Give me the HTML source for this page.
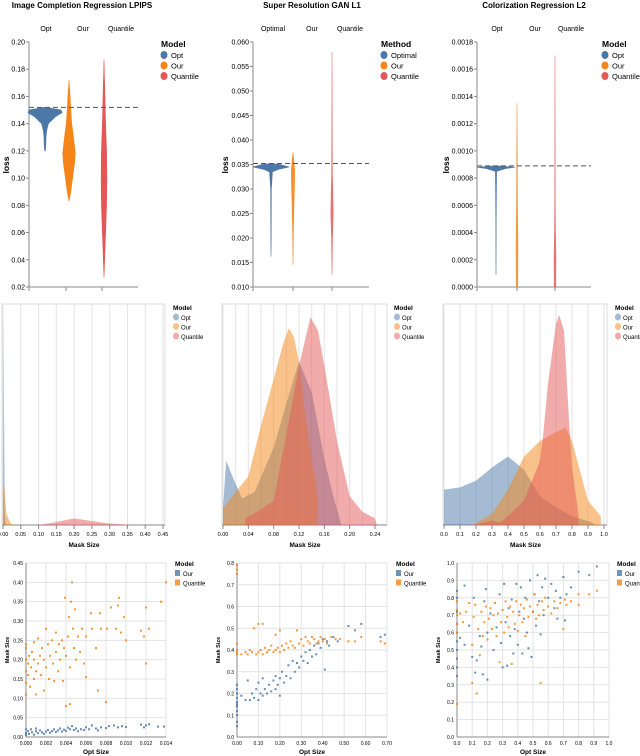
<!DOCTYPE html>
<html><head><meta charset="utf-8"><style>
body{margin:0;background:#fff}
svg{display:block;font-family:"Liberation Sans",sans-serif}
</style></head><body>
<svg id="fig" width="640" height="756" viewBox="0 0 640 756" xmlns="http://www.w3.org/2000/svg"></svg>
<script>
// ===== Row 1 violin data: [loss, relative density] =====
const v1Opt=[[0.12,0.02],[0.125,0.05],[0.13,0.06],[0.135,0.1],[0.14,0.2],[0.145,0.6],[0.148,1],[0.15,0.95],[0.151,0.5],[0.152,0]];
const v1Our=[[0.083,0],[0.09,0.1],[0.1,0.2],[0.11,0.3],[0.118,0.35],[0.13,0.25],[0.14,0.15],[0.15,0.1],[0.16,0.06],[0.172,0]];
const v1Qua=[[0.027,0],[0.04,0.04],[0.06,0.1],[0.08,0.16],[0.1,0.18],[0.12,0.16],[0.14,0.1],[0.16,0.06],[0.187,0]];
const v2Opt=[[0.0162,0],[0.02,0.01],[0.03,0.02],[0.0335,0.08],[0.034,0.4],[0.0345,1],[0.035,0.5],[0.0352,0]];
const v2Our=[[0.0145,0],[0.02,0.02],[0.025,0.05],[0.03,0.1],[0.034,0.12],[0.0375,0]];
const v2Qua=[[0.0125,0],[0.02,0.04],[0.025,0.1],[0.03,0.06],[0.033,0.03],[0.04,0.02],[0.058,0]];
const v3Opt=[[0.00009,0],[0.0005,0.01],[0.00085,0.03],[0.00087,0.5],[0.00088,1],[0.00089,0]];
const v3Our=[[0,0.06],[0.0003,0.08],[0.0006,0.04],[0.001,0.02],[0.00135,0]];
const v3Qua=[[0,0.06],[0.0002,0.08],[0.0004,0.04],[0.0006,0.02],[0.0017,0]];
const v1Ticks=[0.02,0.04,0.06,0.08,0.10,0.12,0.14,0.16,0.18,0.20];
const v2Ticks=[0.010,0.015,0.020,0.025,0.030,0.035,0.040,0.045,0.050,0.055,0.060];
const v3Ticks=[0,0.0002,0.0004,0.0006,0.0008,0.0010,0.0012,0.0014,0.0016,0.0018];
const refLines=[0.152,0.0352,0.00089];
// ===== Row 2 density data: [mask size, relative height] =====
const d1Opt=[[0,0],[0.001,0.5],[0.002,0.94],[0.003,0.5],[0.005,0.05],[0.008,0]];
const d1Our=[[0,0.05],[0.002,0.17],[0.003,0.19],[0.006,0.12],[0.01,0.05],[0.02,0.01],[0.03,0]];
const d1Qua=[[0.1,0],[0.14,0.01],[0.2,0.03],[0.26,0.015],[0.3,0.007],[0.36,0]];
const d2Opt=[[0,0.08],[0.005,0.29],[0.015,0.22],[0.03,0.12],[0.05,0.15],[0.08,0.35],[0.1,0.55],[0.12,0.74],[0.14,0.6],[0.16,0.3],[0.175,0.12],[0.187,0]];
const d2Our=[[0,0.075],[0.02,0.15],[0.04,0.22],[0.06,0.45],[0.08,0.66],[0.095,0.82],[0.104,0.89],[0.112,0.85],[0.12,0.74],[0.13,0.5],[0.14,0.3],[0.149,0.14],[0.149,0]];
const d2Qua=[[0.035,0],[0.035,0.03],[0.06,0.07],[0.08,0.11],[0.1,0.41],[0.12,0.72],[0.138,0.94],[0.15,0.88],[0.16,0.72],[0.18,0.38],[0.2,0.13],[0.22,0.06],[0.24,0.03],[0.243,0]];
const d3Opt=[[0,0],[0,0.16],[0.1,0.17],[0.2,0.2],[0.3,0.26],[0.4,0.31],[0.5,0.25],[0.6,0.13],[0.7,0.08],[0.8,0.04],[0.93,0.01],[0.94,0]];
const d3Our=[[0.18,0],[0.3,0.05],[0.4,0.16],[0.5,0.31],[0.6,0.38],[0.7,0.42],[0.76,0.44],[0.8,0.38],[0.9,0.11],[0.98,0.04],[0.98,0]];
const d3Qua=[[0.18,0],[0.3,0.02],[0.35,0.01],[0.4,0.04],[0.5,0.11],[0.55,0.2],[0.6,0.29],[0.62,0.41],[0.65,0.64],[0.7,0.91],[0.72,0.95],[0.75,0.88],[0.78,0.49],[0.8,0.26],[0.84,0.05],[0.84,0]];
const d1Ticks=[0,0.05,0.1,0.15,0.2,0.25,0.3,0.35,0.4,0.45];
const d2Ticks=[0,0.02,0.04,0.06,0.08,0.1,0.12,0.14,0.16,0.18,0.2,0.22,0.24];
const d3Ticks=[0,0.1,0.2,0.3,0.4,0.5,0.6,0.7,0.8,0.9,1.0];
// ===== Row 3 scatter data: [opt size, mask size] =====
const s1Our=[[0,0.02],[0,0.01],[0,0.005],[0.0002,0.015],[0.0003,0.008],[0.0005,0.02],[0.0006,0.012],[0.0008,0.006],[0.001,0.015],[0.001,0.022],[0.0012,0.01],[0.0014,0.017],[0.0016,0.012],[0.0018,0.008],[0.002,0.014],[0.0022,0.018],[0.0024,0.011],[0.0026,0.015],[0.0028,0.02],[0.003,0.013],[0.0032,0.017],[0.0034,0.022],[0.0036,0.014],[0.0038,0.019],[0.004,0.016],[0.0042,0.024],[0.0044,0.02],[0.0046,0.028],[0.0048,0.018],[0.005,0.022],[0.0052,0.015],[0.0055,0.02],[0.0058,0.018],[0.006,0.025],[0.0063,0.02],[0.0066,0.03],[0.007,0.022],[0.0072,0.017],[0.0075,0.025],[0.008,0.023],[0.0083,0.028],[0.0088,0.03],[0.0092,0.025],[0.0096,0.028],[0.01,0.026],[0.0115,0.032],[0.0118,0.025],[0.012,0.03],[0.0123,0.033],[0.0132,0.027],[0.0138,0.027]];
const s1Qua=[[0,0.11],[0,0.14],[0,0.17],[0,0.2],[0,0.23],[0,0.24],[0.0002,0.16],[0.0002,0.19],[0.0003,0.21],[0.0004,0.13],[0.0005,0.18],[0.0006,0.22],[0.0008,0.15],[0.0008,0.2],[0.0008,0.245],[0.001,0.17],[0.001,0.11],[0.0012,0.19],[0.0012,0.255],[0.0014,0.21],[0.0015,0.16],[0.0016,0.23],[0.0018,0.12],[0.0018,0.2],[0.002,0.28],[0.002,0.18],[0.0022,0.24],[0.0023,0.15],[0.0024,0.21],[0.0026,0.25],[0.0027,0.19],[0.0028,0.145],[0.003,0.22],[0.003,0.27],[0.0032,0.17],[0.0033,0.24],[0.0034,0.2],[0.0036,0.25],[0.0037,0.145],[0.0038,0.23],[0.0039,0.36],[0.004,0.08],[0.004,0.21],[0.0042,0.26],[0.0043,0.31],[0.0044,0.085],[0.0044,0.18],[0.0045,0.35],[0.0046,0.4],[0.0047,0.28],[0.0048,0.23],[0.0049,0.33],[0.005,0.2],[0.0052,0.26],[0.0054,0.22],[0.0056,0.28],[0.0058,0.19],[0.006,0.155],[0.006,0.26],[0.0065,0.32],[0.0066,0.28],[0.007,0.23],[0.0072,0.12],[0.0074,0.32],[0.0075,0.28],[0.008,0.09],[0.0081,0.28],[0.0085,0.335],[0.009,0.28],[0.0092,0.34],[0.0093,0.36],[0.0095,0.27],[0.0098,0.31],[0.01,0.25],[0.0115,0.275],[0.0118,0.26],[0.012,0.19],[0.012,0.335],[0.0123,0.28],[0.0135,0.35],[0.014,0.4]];
const s2Our=[[0,0.05],[0,0.07],[0,0.1],[0,0.12],[0,0.14],[0,0.15],[0,0.16],[0,0.18],[0,0.2],[0,0.22],[0,0.24],[0.02,0.19],[0.04,0.17],[0.05,0.26],[0.06,0.17],[0.07,0.2],[0.08,0.18],[0.09,0.22],[0.1,0.17],[0.1,0.25],[0.11,0.2],[0.12,0.19],[0.12,0.27],[0.13,0.22],[0.14,0.2],[0.15,0.24],[0.16,0.21],[0.17,0.26],[0.18,0.22],[0.18,0.28],[0.19,0.24],[0.2,0.27],[0.2,0.19],[0.21,0.3],[0.22,0.25],[0.23,0.28],[0.24,0.33],[0.25,0.27],[0.26,0.35],[0.27,0.3],[0.28,0.34],[0.29,0.32],[0.3,0.37],[0.31,0.35],[0.32,0.39],[0.33,0.34],[0.34,0.4],[0.35,0.37],[0.36,0.42],[0.37,0.38],[0.38,0.43],[0.39,0.41],[0.4,0.45],[0.41,0.31],[0.42,0.44],[0.43,0.42],[0.45,0.46],[0.47,0.44],[0.52,0.51],[0.55,0.49],[0.58,0.52],[0.67,0.46],[0.69,0.47]];
const s2Qua=[[0,0.38],[0,0.39],[0,0.4],[0,0.43],[0,0.75],[0,0.77],[0,0.79],[0.02,0.38],[0.04,0.39],[0.05,0.38],[0.06,0.4],[0.07,0.39],[0.08,0.5],[0.09,0.38],[0.1,0.39],[0.1,0.52],[0.11,0.4],[0.12,0.38],[0.12,0.52],[0.13,0.41],[0.14,0.39],[0.15,0.4],[0.16,0.42],[0.17,0.39],[0.18,0.4],[0.18,0.47],[0.19,0.41],[0.2,0.39],[0.2,0.49],[0.21,0.42],[0.22,0.4],[0.23,0.43],[0.24,0.41],[0.25,0.44],[0.26,0.42],[0.27,0.41],[0.28,0.49],[0.29,0.43],[0.3,0.45],[0.31,0.42],[0.32,0.46],[0.33,0.44],[0.34,0.43],[0.35,0.46],[0.36,0.45],[0.37,0.43],[0.38,0.44],[0.39,0.46],[0.4,0.44],[0.41,0.45],[0.42,0.43],[0.44,0.46],[0.46,0.45],[0.48,0.45],[0.52,0.44],[0.55,0.44],[0.58,0.46],[0.67,0.44],[0.69,0.43]];
const s3Our=[[0,0.35],[0,0.4],[0,0.45],[0,0.5],[0,0.55],[0,0.6],[0,0.65],[0,0.72],[0,0.8],[0,0.84],[0.02,0.57],[0.05,0.87],[0.05,0.53],[0.08,0.64],[0.1,0.46],[0.11,0.8],[0.12,0.37],[0.13,0.44],[0.15,0.58],[0.16,0.52],[0.17,0.36],[0.18,0.78],[0.19,0.85],[0.2,0.33],[0.2,0.6],[0.22,0.71],[0.24,0.5],[0.26,0.63],[0.28,0.82],[0.29,0.54],[0.3,0.4],[0.31,0.88],[0.32,0.66],[0.33,0.41],[0.34,0.74],[0.35,0.58],[0.36,0.79],[0.37,0.48],[0.38,0.62],[0.39,0.88],[0.4,0.53],[0.41,0.72],[0.42,0.86],[0.43,0.48],[0.44,0.68],[0.45,0.8],[0.46,0.6],[0.47,0.51],[0.48,0.9],[0.49,0.46],[0.5,0.72],[0.51,0.82],[0.52,0.64],[0.53,0.93],[0.54,0.78],[0.55,0.59],[0.56,0.86],[0.57,0.7],[0.58,0.91],[0.6,0.8],[0.62,0.88],[0.64,0.74],[0.65,0.84],[0.66,0.68],[0.68,0.8],[0.7,0.92],[0.71,0.67],[0.72,0.82],[0.75,0.86],[0.8,0.95],[0.87,0.93],[0.92,0.98]];
const s3Qua=[[0,0.19],[0,0.6],[0,0.65],[0,0.7],[0,0.73],[0,0.78],[0.02,0.71],[0.04,0.66],[0.06,0.72],[0.08,0.77],[0.1,0.53],[0.1,0.31],[0.11,0.69],[0.12,0.76],[0.13,0.25],[0.14,0.62],[0.15,0.47],[0.16,0.72],[0.17,0.58],[0.18,0.66],[0.19,0.75],[0.2,0.56],[0.21,0.68],[0.22,0.74],[0.23,0.62],[0.24,0.7],[0.25,0.77],[0.26,0.58],[0.27,0.71],[0.28,0.43],[0.29,0.66],[0.3,0.73],[0.31,0.6],[0.32,0.78],[0.33,0.69],[0.34,0.63],[0.35,0.75],[0.36,0.42],[0.37,0.72],[0.38,0.65],[0.39,0.78],[0.4,0.61],[0.41,0.7],[0.42,0.76],[0.43,0.66],[0.44,0.74],[0.45,0.58],[0.46,0.79],[0.47,0.69],[0.48,0.75],[0.5,0.72],[0.51,0.82],[0.52,0.68],[0.53,0.76],[0.54,0.7],[0.55,0.31],[0.56,0.78],[0.57,0.73],[0.58,0.8],[0.6,0.75],[0.62,0.71],[0.64,0.78],[0.66,0.74],[0.68,0.77],[0.7,0.62],[0.71,0.79],[0.72,0.76],[0.75,0.78],[0.8,0.76],[0.8,0.82],[0.87,0.82],[0.92,0.84]];
const s1XTicks=[0,0.002,0.004,0.006,0.008,0.010,0.012,0.014];
const s1YTicks=[0,0.05,0.1,0.15,0.2,0.25,0.3,0.35,0.4,0.45];
const s2XTicks=[0,0.1,0.2,0.3,0.4,0.5,0.6,0.7];
const s2YTicks=[0,0.1,0.2,0.3,0.4,0.5,0.6,0.7,0.8];
const s3XTicks=[0,0.1,0.2,0.3,0.4,0.5,0.6,0.7,0.8,0.9,1.0];
const s3YTicks=[0,0.1,0.2,0.3,0.4,0.5,0.6,0.7,0.8,0.9,1.0];

const BLUE='#4c78a8',ORANGE='#f58518',RED='#e45756';
const NS='http://www.w3.org/2000/svg';
const svg=document.getElementById('fig');
function mk(tag,attrs,parent,text){const e=document.createElementNS(NS,tag);for(const k in attrs)e.setAttribute(k,attrs[k]);if(text!==undefined)e.textContent=text;(parent||svg).appendChild(e);return e;}
function lin(d0,d1,r0,r1){return v=>r0+(v-d0)/(d1-d0)*(r1-r0);}
function grp(name){const g=mk('g',{});return g;}

function legend(x,y,title,labels,colors,shape,small,op){
  const g=grp('legend');
  const fs=small?6:7.5;
  const t=mk('text',{x:x,y:y,'font-size':small?6.5:8.5,'font-weight':'bold',fill:'#000'},g,title);
  
  labels.forEach((l,i)=>{
    const yy=y+(small?10:11)+i*(small?9.5:10.5);
    const eg=mk('g',{},g);
    
    if(shape==='sq')mk('rect',{x:x,y:yy-6,width:5,height:6,fill:colors[i],opacity:op},eg);
    else mk('ellipse',{cx:x+3,cy:yy-3,rx:small?3:3.5,ry:small?3.5:4,fill:colors[i],opacity:op},eg);
    mk('text',{x:x+(small?8:10),y:yy,'font-size':fs,fill:'#000'},eg,l);
  });
}

// ===== Row 1: violins =====
function violinPanel(o){
  const g=grp(o.name);
  const y=lin(o.ymin,o.ymax,287,42);
  mk('text',{x:o.titleX,y:8,'font-size':8,'font-weight':'bold','text-anchor':'middle',fill:'#000'},g,o.title);
  mk('line',{x1:o.ax,y1:42,x2:o.ax,y2:287,stroke:'#888','stroke-width':1},g);
  mk('line',{x1:o.ax,y1:287,x2:o.axEnd,y2:287,stroke:'#888','stroke-width':1},g);
  o.cols.forEach((c,i)=>{mk('line',{x1:o.ticksX[i],y1:287,x2:o.ticksX[i],y2:291,stroke:'#888'},g);
    const t=mk('text',{x:o.colX[i],y:31,'font-size':7,'text-anchor':'middle',fill:'#000'},g,c);});
  o.ticks.forEach(v=>{mk('line',{x1:o.ax-3,y1:y(v),x2:o.ax,y2:y(v),stroke:'#888'},g);
    mk('text',{x:o.ax-4,y:y(v)+2.5,'font-size':7,'text-anchor':'end',fill:'#000'},g,v.toFixed(o.dec));});
  const yt=mk('text',{x:0,y:0,'font-size':8.5,'font-weight':'bold','text-anchor':'middle',fill:'#000',transform:`translate(${o.ax-o.yto},165) rotate(-90)`},g,'loss');
  
  [o.a,o.b,o.c].forEach((s,i)=>{
    const cx=o.cx[i],w=o.w[i];
    let d='';s.forEach((p,j)=>{d+=(j?'L':'M')+(cx+p[1]*w)+','+y(p[0]);});
    for(let j=s.length-1;j>=0;j--)d+='L'+(cx-s[j][1]*w)+','+y(s[j][0]);
    const p=mk('path',{d:d+'Z',fill:[BLUE,ORANGE,RED][i],stroke:[BLUE,ORANGE,RED][i],'stroke-width':0.6,'fill-opacity':o.fo[i],'stroke-opacity':o.fo[i]},g);
    
  });
  const rl=mk('line',{x1:o.ax,y1:y(o.ref),x2:o.axEnd,y2:y(o.ref),stroke:'#555','stroke-dasharray':'5,3','stroke-width':1},g);
  
  legend(o.legX,47,o.legTitle,o.cols,[BLUE,ORANGE,RED],'c',false,1);
}
violinPanel({name:'violin-chart-lpips',title:'Image Completion Regression LPIPS',titleX:82,ax:29,axEnd:138,ymin:0.02,ymax:0.20,ticks:v1Ticks,dec:2,yto:20,
  cols:['Opt','Our','Quantile'],colX:[46,83,121],ticksX:[29,66,102],cx:[45,69,104],w:[17,18,16],fo:[1,1,1],a:v1Opt,b:v1Our,c:v1Qua,ref:refLines[0],legX:161,legTitle:'Model'});
violinPanel({name:'violin-chart-gan',title:'Super Resolution GAN L1',titleX:312,ax:253,axEnd:369,ymin:0.010,ymax:0.060,ticks:v2Ticks,dec:3,yto:25,
  cols:['Optimal','Our','Quantile'],colX:[273,312,350],ticksX:[253,293,332],cx:[271,293,332],w:[18,14,12],fo:[1,0.9,0.8],a:v2Opt,b:v2Our,c:v2Qua,ref:refLines[1],legX:381,legTitle:'Method'});
violinPanel({name:'violin-chart-colorization',title:'Colorization Regression L2',titleX:534,ax:477,axEnd:591,ymin:0,ymax:0.0018,ticks:v3Ticks,dec:4,yto:28,
  cols:['Opt','Our','Quantile'],colX:[497,535,571],ticksX:[477,517,555],cx:[496,517,555],w:[19,12,12],fo:[1,0.8,0.8],a:v3Opt,b:v3Our,c:v3Qua,ref:refLines[2],legX:602,legTitle:'Model'});

// ===== Row 2: densities =====
function densityPanel(o){
  const g=grp(o.name);
  const x=lin(o.xmin,o.xmax,o.x0,o.x1);
  const h=v=>525-v*221;
  mk('rect',{x:o.x0-1,y:304,width:o.right-o.x0+1,height:221,fill:'none',stroke:'#ddd'},g);
  o.grid.forEach(v=>mk('line',{x1:x(v),y1:304,x2:x(v),y2:525,stroke:'#e3e3e3'},g));
  o.ticks.forEach(v=>{
    mk('line',{x1:x(v),y1:525,x2:x(v),y2:529,stroke:'#888'},g);
    mk('text',{x:x(v),y:536,'font-size':5.5,'text-anchor':'middle',fill:'#000'},g,v.toFixed(o.dec));});
  mk('line',{x1:o.x0-1,y1:525,x2:o.right,y2:525,stroke:'#888'},g);
  mk('text',{x:(o.x0+o.right)/2,y:547,'font-size':6.5,'font-weight':'bold','text-anchor':'middle',fill:'#000'},g,'Mask Size');
  [[o.a,BLUE,'opt'],[o.b,ORANGE,'our'],[o.c,RED,'quantile']].forEach(([s,col,n])=>{
    let d='M'+x(s[0][0])+',525';s.forEach(p=>{d+='L'+x(p[0])+','+h(p[1]);});d+='L'+x(s[s.length-1][0])+',525Z';
    const p=mk('path',{d:d,fill:col,'fill-opacity':0.5,'stroke-linejoin':'round'},g);
    
  });
  legend(o.legX,310,'Model',['Opt','Our','Quantile'],[BLUE,ORANGE,RED],'c',true,0.5);
}
densityPanel({name:'density-chart-lpips',xmin:0,xmax:0.45,x0:3,x1:163,right:165,ticks:d1Ticks,grid:d1Ticks,dec:2,a:d1Opt,b:d1Our,c:d1Qua,legX:173});
densityPanel({name:'density-chart-gan',xmin:0,xmax:0.24,x0:223,x1:375,right:387,ticks:d2Ticks.filter((v,i)=>i%2===0),grid:d2Ticks,dec:2,a:d2Opt,b:d2Our,c:d2Qua,legX:394});
densityPanel({name:'density-chart-colorization',xmin:0,xmax:1,x0:444,x1:604,right:607,ticks:d3Ticks,grid:d3Ticks,dec:1,a:d3Opt,b:d3Our,c:d3Qua,legX:615});

// ===== Row 3: scatters =====
function scatterPanel(o){
  const g=grp(o.name);
  const x=lin(o.xmin,o.xmax,o.x0,o.x1), y=lin(o.ymin,o.ymax,737,563);
  mk('rect',{x:o.x0,y:563,width:o.x1-o.x0,height:174,fill:'none',stroke:'#ddd'},g);
  o.xt.forEach(v=>{mk('line',{x1:x(v),y1:563,x2:x(v),y2:737,stroke:'#e3e3e3'},g);
    mk('text',{x:x(v),y:745,'font-size':5,'text-anchor':'middle',fill:'#000'},g,v.toFixed(o.xd));});
  o.yt.forEach(v=>{mk('line',{x1:o.x0,y1:y(v),x2:o.x1,y2:y(v),stroke:'#e3e3e3'},g);
    mk('text',{x:o.x0-3,y:y(v)+2,'font-size':5,'text-anchor':'end',fill:'#000'},g,v.toFixed(o.yd));});
  mk('line',{x1:o.x0,y1:563,x2:o.x0,y2:737,stroke:'#888'},g);
  mk('line',{x1:o.x0,y1:737,x2:o.x1,y2:737,stroke:'#888'},g);
  mk('text',{x:(o.x0+o.x1)/2,y:754,'font-size':6.5,'font-weight':'bold','text-anchor':'middle',fill:'#000'},g,'Opt Size');
  mk('text',{x:0,y:0,'font-size':5.5,'font-weight':'bold','text-anchor':'middle',fill:'#000',transform:`translate(${o.x0-17},650) rotate(-90)`},g,'Mask Size');
  [[o.a,BLUE,'our'],[o.b,ORANGE,'quantile']].forEach(([s,col,n])=>{
    s.forEach(p=>{const r=mk('rect',{x:x(p[0])-1,y:y(p[1])-1,width:2,height:2,fill:col,opacity:0.85},g);
      });
  });
  legend(o.legX,566,'Model',['Our','Quantile'],[BLUE,ORANGE],'sq',true,0.8);
}
scatterPanel({name:'scatter-chart-lpips',xmin:0,xmax:0.014,x0:26,x1:166,ymin:0,ymax:0.45,xt:s1XTicks,yt:s1YTicks,xd:3,yd:2,a:s1Our,b:s1Qua,legX:175});
scatterPanel({name:'scatter-chart-gan',xmin:0,xmax:0.7,x0:237,x1:387,ymin:0,ymax:0.8,xt:s2XTicks,yt:s2YTicks,xd:2,yd:1,a:s2Our,b:s2Qua,legX:396});
scatterPanel({name:'scatter-chart-colorization',xmin:0,xmax:1,x0:457,x1:609,ymin:0,ymax:1,xt:s3XTicks,yt:s3YTicks,xd:1,yd:1,a:s3Our,b:s3Qua,legX:617});
</script>
</body></html>
